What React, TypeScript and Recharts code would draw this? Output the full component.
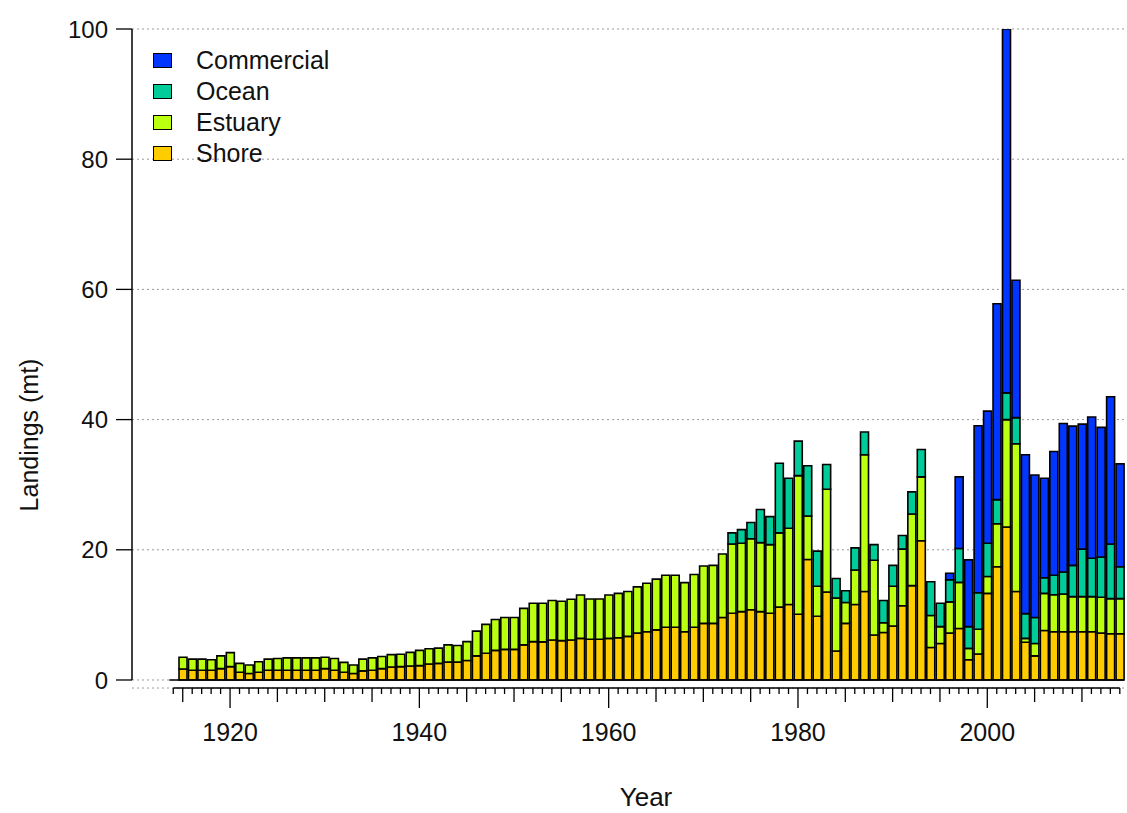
import { BarChart, Bar, XAxis, YAxis, CartesianGrid, ReferenceLine, Legend, Label } from "recharts";

const FONT = "'Liberation Sans', Arial, sans-serif";

// one bar per year, starting here (1914 is an empty year)
const firstYear = 1914;

const shore = [
  0,
  1.7, 1.5, 1.5, 1.5, 1.75, 2.05, 1.2, 1.0, 1.2, 1.5,
  1.5, 1.5, 1.5, 1.5, 1.5, 1.75, 1.5, 1.2, 1.0, 1.4,
  1.5, 1.75, 2.0, 2.05, 2.15, 2.2, 2.45, 2.55, 2.75, 2.75,
  3.0, 3.7, 4.1, 4.55, 4.7, 4.7, 5.4, 5.9, 5.85, 6.15,
  6.05, 6.15, 6.4, 6.25, 6.25, 6.4, 6.5, 6.7, 7.2, 7.4,
  7.7, 8.1, 8.1, 7.4, 8.1, 8.7, 8.7, 9.6, 10.25, 10.5,
  10.8, 10.5, 10.25, 11.2, 11.6, 10.1, 18.5, 9.8, 13.5, 4.45,
  8.7, 11.6, 13.6, 6.9, 7.3, 8.3, 11.4, 14.5, 21.4, 5.0,
  5.6, 7.2, 7.9, 3.1, 4.0, 13.3, 17.4, 23.5, 13.6, 5.8,
  3.7, 7.6, 7.4, 7.4, 7.4, 7.4, 7.4, 7.2, 7.1, 7.1,
];

const estuary = [
  0,
  1.8, 1.7, 1.7, 1.6, 1.95, 2.15, 1.35, 1.3, 1.6, 1.7,
  1.8, 1.9, 1.9, 1.9, 1.9, 1.75, 1.8, 1.5, 1.3, 1.8,
  1.9, 1.85, 1.9, 1.9, 2.1, 2.35, 2.35, 2.35, 2.65, 2.55,
  2.9, 3.8, 4.45, 4.75, 4.9, 4.9, 5.6, 5.9, 5.95, 6.05,
  6.05, 6.25, 6.65, 6.2, 6.2, 6.65, 6.8, 6.9, 7.1, 7.45,
  7.8, 8.0, 8.0, 7.55, 8.1, 8.8, 8.9, 9.75, 10.65, 10.5,
  10.9, 10.6, 10.55, 11.4, 11.7, 21.3, 6.7, 4.6, 15.8, 8.15,
  3.2, 5.3, 21.0, 11.5, 1.5, 6.1, 8.7, 11.0, 9.8, 4.9,
  2.6, 4.8, 7.1, 1.75, 3.8, 2.6, 6.6, 16.5, 22.7, 0.6,
  1.9, 5.7, 5.7, 5.8, 5.4, 5.4, 5.4, 5.5, 5.4, 5.4,
];

// ocean landings start in 1973
const oceanStart = 1973;
const ocean = [
  1.7, 2.1,
  2.5, 5.1, 4.3, 10.7, 7.7, 5.3, 7.7, 5.4, 3.8, 3.0,
  1.8, 3.4, 3.5, 2.4, 3.4, 3.2, 2.1, 3.4, 4.2, 5.2,
  3.6, 3.4, 5.2, 3.35, 5.6, 5.1, 3.7, 4.1, 4.0, 3.8,
  4.0, 2.4, 3.0, 3.4, 4.8, 7.3, 5.9, 6.2, 8.4, 4.9,
];

// commercial landings start in 1996
const commercialStart = 1996;
const commercial = [
  1.0, 11.0, 10.25, 25.65,
  20.3, 30.1, 55.9, 21.1, 24.4, 21.9, 15.3, 19.0, 22.8, 21.4,
  19.2, 21.7, 19.9, 22.6, 15.8,
];

const yTicks = [0, 20, 40, 60, 80, 100];

const seriesInfo = [
  { key: "commercial", name: "Commercial", color: "#0036FF" },
  { key: "ocean", name: "Ocean", color: "#00CC99" },
  { key: "estuary", name: "Estuary", color: "#BBFF11" },
  { key: "shore", name: "Shore", color: "#FFCC00" },
];

const data = shore.map((s, i) => {
  const year = firstYear + i;
  return {
    year,
    shore: s,
    estuary: estuary[i],
    ocean: ocean[year - oceanStart] ?? 0,
    commercial: commercial[year - commercialStart] ?? 0,
  };
});
const yearTicks = data.map((d) => d.year);
const lastYear = yearTicks[yearTicks.length - 1];

// y range goes a bit below 0 so the year axis sits under the bars
const yMin = -1.23;
const xMin = 1909.64;
const xMax = 2014.76;

function YearTick(props: any) {
  const { x, y, payload } = props;
  const v = payload.value;
  const len = v % 20 === 0 ? 20 : v % 5 === 0 ? 14 : 6;
  return (
    <g>
      <line x1={x} x2={x} y1={y} y2={y + len} stroke="#000" strokeWidth={1.3} />
      {v % 20 === 0 && (
        <text x={x} y={y + 53} textAnchor="middle" fontSize={25} fontFamily={FONT} fill="#111">
          {v}
        </text>
      )}
    </g>
  );
}

function LegendBox() {
  return (
    <div style={{ fontFamily: FONT, fontSize: 25, color: "#111" }}>
      {seriesInfo.map((s) => (
        <div key={s.key} style={{ display: "flex", alignItems: "center", height: 31 }}>
          <span
            style={{
              display: "inline-block",
              width: 17,
              height: 13,
              background: s.color,
              border: "1.5px solid #000",
              marginRight: 24,
            }}
          />
          <span>{s.name}</span>
        </div>
      ))}
    </div>
  );
}

export default function App() {
  const stackOrder = [...seriesInfo].reverse();
  return (
    <div style={{ position: "absolute", left: 0, top: 0, background: "#fff" }}>
      <BarChart
        width={1127}
        height={813}
        data={data}
        margin={{ top: 29, right: 0, bottom: 0, left: 0 }}
        style={{ fontFamily: FONT }}
      >
        <CartesianGrid vertical={false} stroke="#9a9a9a" strokeDasharray="2 3" />
        <XAxis
          type="number"
          dataKey="year"
          domain={[xMin, xMax]}
          allowDataOverflow
          ticks={yearTicks}
          interval={0}
          axisLine={false}
          tickLine={false}
          tickSize={0}
          tickMargin={0}
          height={125}
          tick={<YearTick />}
        >
          <Label
            content={() => (
              <text x={646} y={806} textAnchor="middle" fontSize={26} fontFamily={FONT} fill="#111">
                Year
              </text>
            )}
          />
        </XAxis>
        <YAxis
          type="number"
          domain={[yMin, 100]}
          allowDataOverflow
          ticks={yTicks}
          interval={0}
          width={132}
          axisLine={false}
          tickSize={16}
          tickMargin={8}
          tickLine={{ stroke: "#000", strokeWidth: 1.3 }}
          tick={{ fontSize: 24, fill: "#111", fontFamily: FONT }}
        >
          <Label
            content={() => (
              <text
                x={38}
                y={435}
                transform="rotate(-90 38 435)"
                textAnchor="middle"
                fontSize={25}
                fontFamily={FONT}
                fill="#111"
              >
                Landings (mt)
              </text>
            )}
          />
        </YAxis>
        <Legend
          layout="vertical"
          align="center"
          verticalAlign="middle"
          content={() => <LegendBox />}
          wrapperStyle={{ left: 153, top: 45, width: 260, height: 130 }}
        />
        {stackOrder.map((s) => (
          <Bar
            key={s.key}
            dataKey={s.key}
            name={s.name}
            stackId="a"
            barSize={8}
            fill={s.color}
            stroke="#000"
            strokeWidth={1.6}
            isAnimationActive={false}
          />
        ))}
        <ReferenceLine
          segment={[{ x: firstYear - 0.42, y: 0 }, { x: lastYear + 0.42, y: 0 }]}
          stroke="#000"
          strokeWidth={1.5}
          ifOverflow="visible"
        />
        <ReferenceLine
          segment={[{ x: firstYear, y: yMin }, { x: lastYear, y: yMin }]}
          stroke="#000"
          strokeWidth={1.3}
          ifOverflow="visible"
        />
        <ReferenceLine
          segment={[{ x: xMin, y: 0 }, { x: xMin, y: 100 }]}
          stroke="#000"
          strokeWidth={1.5}
          ifOverflow="visible"
        />
      </BarChart>
    </div>
  );
}
